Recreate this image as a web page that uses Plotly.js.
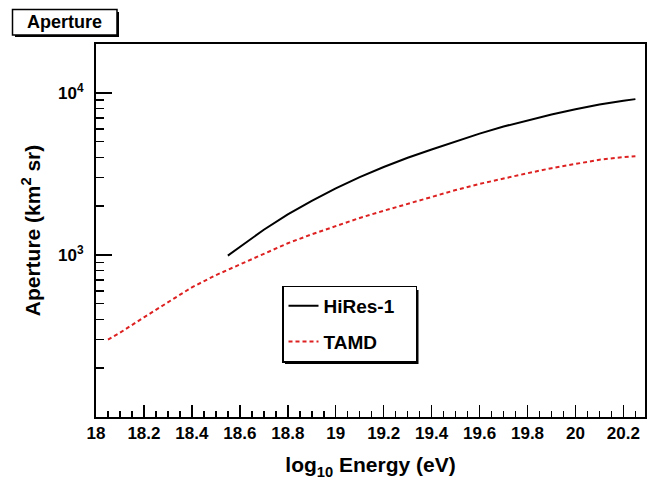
<!DOCTYPE html>
<html>
<head>
<meta charset="utf-8">
<script src="https://cdn.plot.ly/plotly-3.0.1.min.js"></script>
<style>
  html, body { margin: 0; padding: 0; background: #fff; }
  #chart { width: 657px; height: 480px; }
</style>
</head>
<body>
<div id="chart"></div>
<script>
// log10(E/eV) sample points and apertures in km^2 sr
const hiresEnergy = [18.55, 18.6, 18.7, 18.8, 18.9, 19.0, 19.1, 19.2, 19.3, 19.4, 19.5,
                     19.6, 19.7, 19.8, 19.9, 20.0, 20.1, 20.2, 20.25];
const hiresAperture = [990, 1122, 1429, 1778, 2153, 2570, 3020, 3483, 3972, 4467, 5012,
                       5598, 6194, 6776, 7345, 7907, 8472, 8933, 9141];

const tamdEnergy = [18.05, 18.1, 18.2, 18.3, 18.4, 18.5, 18.6, 18.7, 18.8, 18.9, 19.0,
                    19.1, 19.2, 19.3, 19.4, 19.5, 19.6, 19.7, 19.8, 19.9, 20.0, 20.1, 20.2, 20.25];
const tamdAperture = [300, 331, 412, 513, 631, 750, 871, 1012, 1180, 1340, 1507,
                      1690, 1871, 2070, 2291, 2512, 2742, 2965, 3190, 3428, 3656, 3864, 4009, 4064];

// non-breaking spaces pad the legend box out to its frame width
const seriesNames = ['HiRes-1\u00a0\u00a0\u00a0', 'TAMD'];
const yTickVals = [1000, 10000];
const yTickText = ['10<sup>3</sup>', '10<sup>4</sup>'];
const yMinorVals = [200, 300, 400, 500, 600, 700, 800, 900,
                    2000, 3000, 4000, 5000, 6000, 7000, 8000, 9000, 20000];

const FONT = 'Liberation Sans, Arial, sans-serif';

// plot area in pixels, used to place the boxes drawn around titles/legend
const L = 96, R = 645, T = 44, B = 417;
const px = x => (x - L) / (R - L);
const py = y => (B - y) / (B - T);

const traces = [
  {
    x: hiresEnergy, y: hiresAperture, name: seriesNames[0],
    type: 'scatter', mode: 'lines', legendgroup: 'a',
    line: { color: '#000000', width: 2 }
  },
  {
    x: tamdEnergy, y: tamdAperture, name: seriesNames[1],
    type: 'scatter', mode: 'lines', legendgroup: 'b',
    line: { color: '#dd2020', width: 2, dash: '4px,3px' }
  }
];

const layout = {
  width: 657, height: 480,
  margin: { l: L, r: 657 - R, t: T, b: 480 - B, pad: 0 },
  paper_bgcolor: '#ffffff', plot_bgcolor: '#ffffff',
  font: { family: FONT, color: '#000', weight: 'bold' },
  showlegend: true,
  legend: {
    x: px(282), y: py(285.5), xanchor: 'left', yanchor: 'top',
    bgcolor: '#ffffff', bordercolor: '#000', borderwidth: 1.5,
    font: { family: FONT, size: 19, weight: 'bold', color: '#000' },
    traceorder: 'grouped', tracegroupgap: 8, itemwidth: 30
  },
  xaxis: {
    range: [18, 20.29], showgrid: false, zeroline: false,
    showline: true, mirror: true, linecolor: '#000', linewidth: 2,
    ticks: 'inside', tickmode: 'linear', tick0: 18, dtick: 0.2,
    ticklen: 12, tickwidth: 1.5, tickcolor: '#000',
    minor: { dtick: 0.05, tick0: 18, ticks: 'inside', ticklen: 6, tickwidth: 1.5, tickcolor: '#000' },
    tickfont: { family: FONT, size: 17, weight: 'bold' },
    title: { text: 'log<sub>10</sub> Energy (eV)', font: { family: FONT, size: 21, weight: 'bold' }, standoff: 15 }
  },
  yaxis: {
    type: 'log', range: [2, 4.301], showgrid: false, zeroline: false,
    showline: true, mirror: true, linecolor: '#000', linewidth: 2,
    ticks: 'inside', tickmode: 'array', tickvals: yTickVals, ticktext: yTickText,
    ticklen: 16, tickwidth: 1.5, tickcolor: '#000', ticklabelstandoff: 7,
    minor: { tickmode: 'array', tickvals: yMinorVals, ticks: 'inside', ticklen: 8, tickwidth: 1.5, tickcolor: '#000' },
    tickfont: { family: FONT, size: 17, weight: 'bold' },
    title: { text: 'Aperture (km<sup>2</sup> sr)', font: { family: FONT, size: 21, weight: 'bold' }, standoff: 12 }
  },
  shapes: [
    // drop shadow of the legend box
    { type: 'rect', xref: 'paper', yref: 'paper', layer: 'above',
      x0: px(285), x1: px(418.5), y0: py(290), y1: py(364),
      fillcolor: '#000', line: { width: 0 } },
    // framed title label with drop shadow
    { type: 'rect', xref: 'paper', yref: 'paper',
      x0: px(15), x1: px(119), y0: py(12), y1: py(37),
      fillcolor: '#000', line: { width: 0 } },
    { type: 'rect', xref: 'paper', yref: 'paper',
      x0: px(12.5), x1: px(117), y0: py(9.5), y1: py(35),
      fillcolor: '#fff', line: { color: '#000', width: 1.5 } }
  ],
  annotations: [
    { text: 'Aperture', xref: 'paper', yref: 'paper', x: px(64.5), y: py(22),
      xanchor: 'center', yanchor: 'middle', showarrow: false,
      font: { family: FONT, size: 18, weight: 'bold', color: '#000' } }
  ]
};

Plotly.newPlot('chart', traces, layout, { displayModeBar: false, staticPlot: true });
</script>
</body>
</html>
